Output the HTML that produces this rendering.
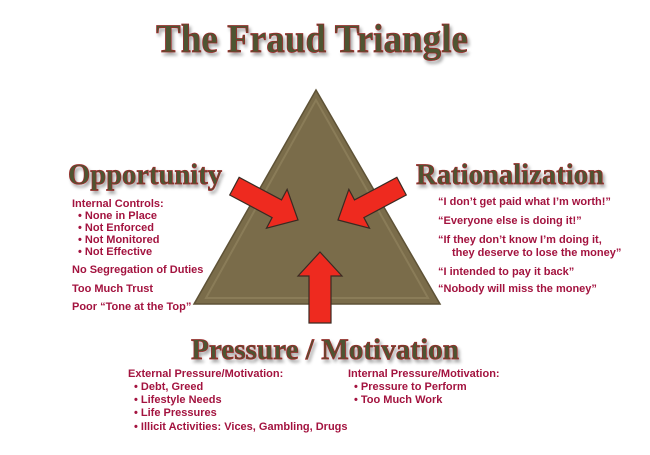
<!DOCTYPE html>
<html><head><meta charset="utf-8"><style>
body{margin:0;background:#fff;width:650px;height:450px;overflow:hidden}
</style></head><body>
<svg width="650" height="450" xmlns="http://www.w3.org/2000/svg">
<defs>
<filter id="sh" x="-10%" y="-10%" width="130%" height="140%"><feDropShadow dx="2" dy="3" stdDeviation="1.5" flood-color="#000" flood-opacity="0.35"/></filter>
</defs>
<g font-family="Liberation Serif, serif" font-weight="bold" fill="#4d5532" stroke="#9b2a2a" stroke-width="0.8" filter="url(#sh)">
<text x="312" y="52" font-size="40" text-anchor="middle" textLength="312" lengthAdjust="spacingAndGlyphs">The Fraud Triangle</text>
<text x="145" y="184" font-size="30" text-anchor="middle" textLength="154" lengthAdjust="spacingAndGlyphs">Opportunity</text>
<text x="510" y="184" font-size="30" text-anchor="middle" textLength="188" lengthAdjust="spacingAndGlyphs">Rationalization</text>
<text x="325" y="359" font-size="30" text-anchor="middle" textLength="268" lengthAdjust="spacingAndGlyphs">Pressure / Motivation</text>
</g>
<polygon points="316,90 194,304 440,304" fill="#7a6c4a" stroke="#5e5236" stroke-width="1.5"/>
<polygon points="316,100 206,298 428,298" fill="none" stroke="#8a7c58" stroke-width="2"/>
<g fill="#ee2a1f" stroke="#3a2a22" stroke-width="1.2">
<g transform="translate(298,220) rotate(28)"><polygon points="0,0 -24,-22 -24,-10 -72,-10 -72,10 -24,10 -24,22"/></g>
<g transform="translate(338,220) rotate(152)"><polygon points="0,0 -24,-22 -24,-10 -72,-10 -72,10 -24,10 -24,22"/></g>
<g transform="translate(320,252) rotate(-90)"><polygon points="0,0 -24,-22 -24,-11 -71,-11 -71,11 -24,11 -24,22"/></g>
</g>
<g font-family="Liberation Sans, sans-serif" font-weight="bold" font-size="11" fill="#a3133f">
<text x="72" y="207">Internal Controls:</text>
<text x="78" y="219">• None in Place</text>
<text x="78" y="231">• Not Enforced</text>
<text x="78" y="243">• Not Monitored</text>
<text x="78" y="255">• Not Effective</text>
<text x="72" y="273">No Segregation of Duties</text>
<text x="72" y="292">Too Much Trust</text>
<text x="72" y="310">Poor “Tone at the Top”</text>
<text x="438" y="205">“I don’t get paid what I’m worth!”</text>
<text x="438" y="224">“Everyone else is doing it!”</text>
<text x="438" y="243">“If they don’t know I’m doing it,</text>
<text x="452" y="256">they deserve to lose the money”</text>
<text x="438" y="275">“I intended to pay it back”</text>
<text x="438" y="292">“Nobody will miss the money”</text>
<text x="128" y="377">External Pressure/Motivation:</text>
<text x="134" y="390">• Debt, Greed</text>
<text x="134" y="403">• Lifestyle Needs</text>
<text x="134" y="416">• Life Pressures</text>
<text x="134" y="430">• Illicit Activities: Vices, Gambling, Drugs</text>
<text x="348" y="377">Internal Pressure/Motivation:</text>
<text x="354" y="390">• Pressure to Perform</text>
<text x="354" y="403">• Too Much Work</text>
</g>
</svg>
</body></html>
